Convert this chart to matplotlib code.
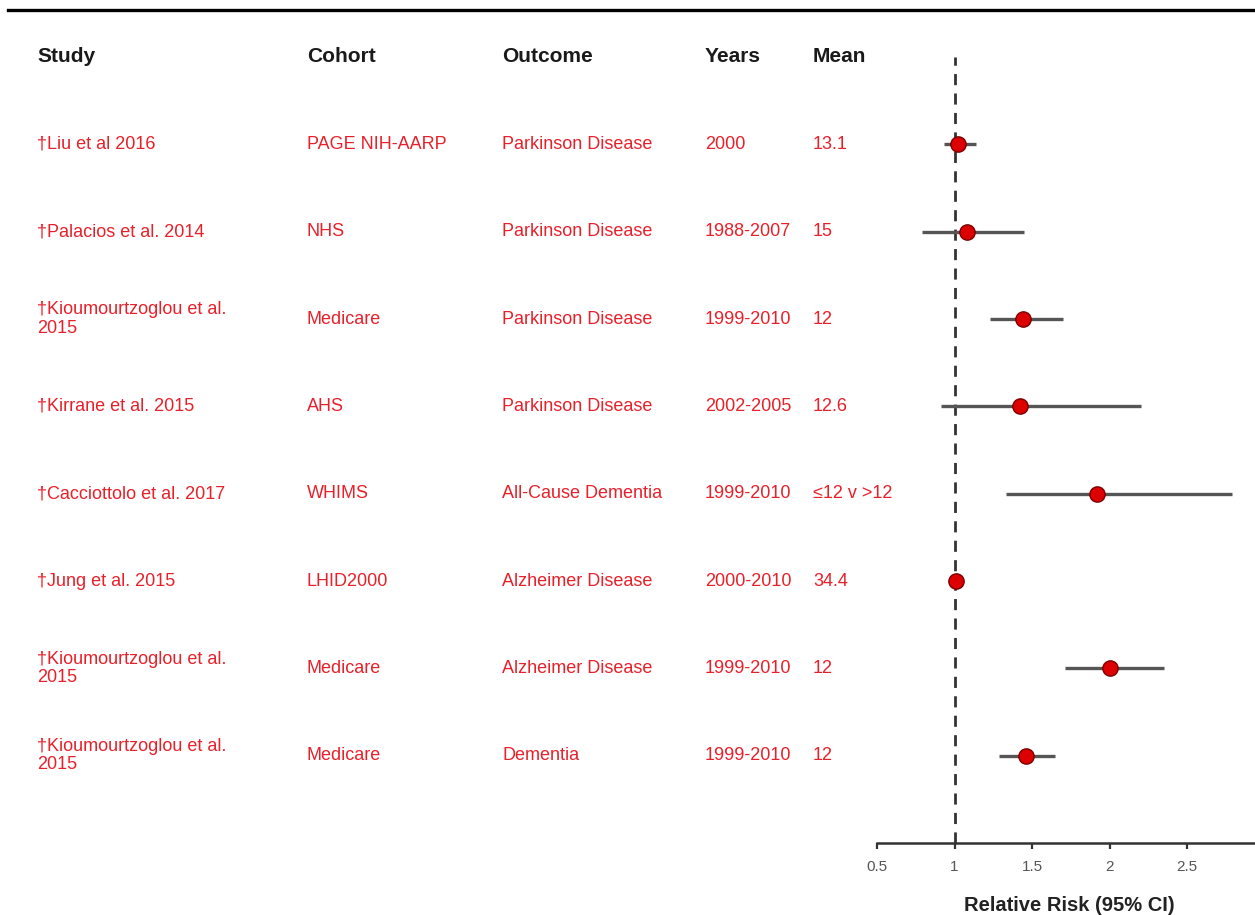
import matplotlib
matplotlib.use("Agg")
import matplotlib.pyplot as plt
import matplotlib.transforms as mtransforms
from matplotlib.lines import Line2D

plt.rcParams['font.family'] = ['Liberation Sans', 'DejaVu Sans']

# ---- data ----
headers = ["Study", "Cohort", "Outcome", "Years", "Mean"]
studies = ["\u2020Liu et al 2016", "\u2020Palacios et al. 2014",
           "\u2020Kioumourtzoglou et al.\n2015", "\u2020Kirrane et al. 2015",
           "\u2020Cacciottolo et al. 2017", "\u2020Jung et al. 2015",
           "\u2020Kioumourtzoglou et al.\n2015", "\u2020Kioumourtzoglou et al.\n2015"]
cohorts = ["PAGE NIH-AARP", "NHS", "Medicare", "AHS", "WHIMS", "LHID2000",
           "Medicare", "Medicare"]
outcomes = ["Parkinson Disease", "Parkinson Disease", "Parkinson Disease",
            "Parkinson Disease", "All-Cause Dementia", "Alzheimer Disease",
            "Alzheimer Disease", "Dementia"]
years = ["2000", "1988-2007", "1999-2010", "2002-2005", "1999-2010",
         "2000-2010", "1999-2010", "1999-2010"]
means = ["13.1", "15", "12", "12.6", "\u226412 v >12", "34.4", "12", "12"]
rr = [1.02, 1.08, 1.44, 1.42, 1.92, 1.01, 2.00, 1.46]
ci_low = [0.93, 0.79, 1.23, 0.91, 1.33, 0.99, 1.71, 1.29]
ci_high = [1.14, 1.45, 1.70, 2.20, 2.79, 1.03, 2.35, 1.65]
xticks = [0.5, 1, 1.5, 2, 2.5]
xticklabels = ["0.5", "1", "1.5", "2", "2.5"]

W, H = 1255, 915
fig = plt.figure(figsize=(W / 100, H / 100), dpi=100)

# forest axes: x from px 877 to 1255, y from px 57 to 843
left = 877 / W
bottom = 1 - 843 / H
top = 1 - 57 / H
ax = fig.add_axes([left, bottom, 1 - left, top - bottom])
ax.set_xlim(0.5, 0.5 + 378 / 155)
n = len(studies)
ax.set_ylim(n, -1)

rows = list(range(n))
ax.hlines(rows, ci_low, ci_high, color='#555555', lw=2.4, zorder=2)
ax.plot(rr, rows, 'o', ms=11, mfc='#dd0000', mec='#7a0000', mew=1.0, zorder=3)
ax.axvline(1, color='#333333', lw=2.0, ls=(0, (4, 3)), zorder=1)

for s in ['top', 'right', 'left']:
    ax.spines[s].set_visible(False)
ax.spines['bottom'].set_color('#333333')
ax.spines['bottom'].set_linewidth(1.8)
ax.set_yticks([])
ax.set_xticks(xticks)
ax.set_xticklabels(xticklabels)
ax.tick_params(axis='x', colors='#333333', labelcolor='#555555', labelsize=11,
               length=4, width=1.6, pad=8)
ax.text(0.51, -0.079, "Relative Risk (95% CI)", transform=ax.transAxes,
        ha='center', va='center', fontsize=14.5, fontweight='bold', color='#222222')

# table text
trans = mtransforms.blended_transform_factory(fig.transFigure, ax.transData)
col_x = [37 / W, 307 / W, 502 / W, 705 / W, 813 / W]
for cx, h in zip(col_x, headers):
    ax.text(cx, -1, h, transform=trans, ha='left', va='center', fontsize=15,
            fontweight='bold', color='#1a1a1a', clip_on=False)
red = '#e8202a'
for i in rows:
    for cx, col in zip(col_x, [studies, cohorts, outcomes, years, means]):
        ax.text(cx, i, col[i], transform=trans, ha='left', va='center',
                fontsize=13, color=red, linespacing=1.1, clip_on=False)

# top rule
fig.add_artist(Line2D([8 / W, 1.0], [1 - 10 / H, 1 - 10 / H], color='black',
                      lw=2.4, transform=fig.transFigure))

fig.savefig("out.png", dpi=100)
